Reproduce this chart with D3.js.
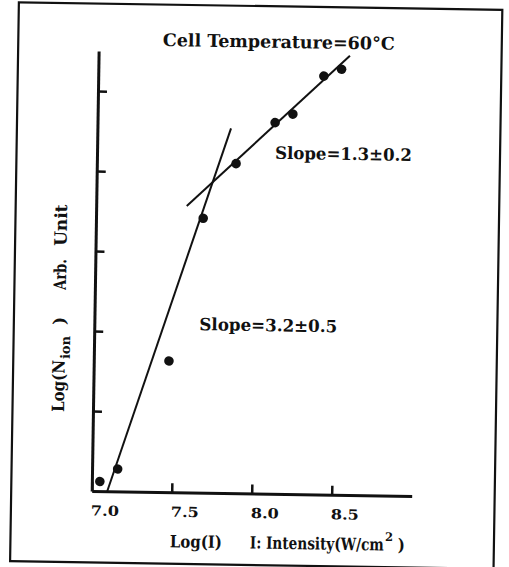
<!DOCTYPE html>
<html>
<head>
<meta charset="utf-8">
<script src="https://cdn.jsdelivr.net/npm/d3@7"></script>
<style>
  body { margin: 0; background: #fff; }
  svg { display: block; }
  text { font-family: "DejaVu Serif", serif; font-weight: bold; fill: #111; }
</style>
</head>
<body>
<svg width="509" height="567"></svg>
<script>
// measured points, Log(I) vs Log(N_ion)
const logI = [7.05, 7.16, 7.47, 7.67, 7.87, 8.11, 8.22, 8.41, 8.52];
const logN = [0.12, 0.28, 1.64, 3.43, 4.12, 4.64, 4.75, 5.23, 5.32];

// the two fitted lines (end points)
const steepFit = [[7.097, 0.0], [7.835, 4.56]];
const shallowFit = [[7.566, 3.58], [8.571, 5.49]];

const xTicks = [7.0, 7.5, 8.0, 8.5];
const xTickLabels = ["7.0", "7.5", "8.0", "8.5"];
const yTicks = [1, 2, 3, 4, 5];

main = () => {
    let svg = d3.select('svg');

    // scanned page is a bit tilted
    let g = svg.append('g')
        .attr('transform', 'rotate(0.9,254,283)');

    // frame around the figure
    g.append('rect')
        .attr('x', 14.5).attr('y', 6)
        .attr('width', 483.5).attr('height', 559)
        .attr('fill', 'none')
        .attr('stroke', '#111')
        .attr('stroke-width', 2.2);

    let xScale = d3.scaleLinear()
        .domain([7, 9])
        .range([95, 415]);

    let yScale = d3.scaleLinear()
        .domain([0, 5.5])
        .range([493.5, 53.5]);

    /********************** AXES ********************************** */
    let xAxis = d3.axisBottom(xScale)
        .tickValues(xTicks)
        .tickSizeInner(-9)
        .tickSizeOuter(0)
        .tickFormat((d, i) => xTickLabels[i]);

    let gx = g.append('g')
        .attr('transform', 'translate(0,' + yScale(0) + ')')
        .call(xAxis);
    gx.select('.domain').attr('stroke', '#111').attr('stroke-width', 3);
    gx.selectAll('.tick line').attr('stroke', '#111').attr('stroke-width', 2.5);
    gx.selectAll('.tick text')
        .attr('text-anchor', 'start')
        .attr('x', -1)
        .attr('y', 24.5)
        .attr('dy', 0)
        .attr('textLength', 28)
        .attr('lengthAdjust', 'spacingAndGlyphs')
        .style('font-size', '14px')
        .style('font-family', '"DejaVu Serif", serif')
        .style('font-weight', 'bold')
        .attr('fill', '#111');

    let yAxis = d3.axisLeft(yScale)
        .tickValues(yTicks)
        .tickSizeInner(-9)
        .tickSizeOuter(0)
        .tickFormat('');

    let gy = g.append('g')
        .attr('transform', 'translate(' + xScale(7) + ',0)')
        .call(yAxis);
    gy.select('.domain').attr('stroke', '#111').attr('stroke-width', 3);
    gy.selectAll('.tick line').attr('stroke', '#111').attr('stroke-width', 2.5);

    /********************** FIT LINES ********************************** */
    let line = d3.line()
        .x(d => xScale(d[0]))
        .y(d => yScale(d[1]));

    g.selectAll('path.fit')
        .data([steepFit, shallowFit])
        .enter()
        .append('path')
            .attr('class', 'fit')
            .attr('d', line)
            .attr('fill', 'none')
            .attr('stroke', '#111')
            .attr('stroke-width', 2);

    /********************** POINTS ********************************** */
    let points = logI.map((x, i) => [x, logN[i]]);

    g.selectAll('circle')
        .data(points)
        .enter()
        .append('circle')
            .attr('cx', d => xScale(d[0]))
            .attr('cy', d => yScale(d[1]))
            .attr('r', 4.8)
            .style('fill', '#111');

    /********************** TEXTS ********************************** */
    // helper: text squeezed sideways (scale) until it fits a width, returns its end x
    let fitted = (parent, x, y, maxLen, size, str) => {
        let holder = parent.append('g');
        let t = holder.append('text')
            .style('font-size', size + 'px')
            .text(str);
        let w = t.node().getComputedTextLength();
        let k = Math.min(1, maxLen / w);
        holder.attr('transform', 'translate(' + x + ',' + y + ') scale(' + k + ',1)');
        return x + w * k;
    };

    fitted(g, 159, 47.5, 234, 17.5, 'Cell  Temperature=60°C');
    fitted(g, 273, 158.5, 137, 17, 'Slope=1.3±0.2');
    fitted(g, 200, 331, 138, 17, 'Slope=3.2±0.5');

    // y label, rotated (x runs upward along the axis here)
    let yl = g.append('g')
        .attr('transform', 'translate(66,0) rotate(-90)');
    let e = fitted(yl, -415, 0, 52, 17, 'Log(N');
    fitted(yl, e + 1, 5, 26, 13, 'ion');
    fitted(yl, -328, 0, 8, 17, ')');
    fitted(yl, -293, 0, 31, 17, 'Arb.');
    fitted(yl, -249, 0, 45, 17, 'Unit');

    // x label
    fitted(g, 174, 548.5, 52, 17, 'Log(I)');
    let end = fitted(g, 254, 548.5, 134, 17, 'I: Intensity(W/cm');
    end = fitted(g, end + 1, 539, 8, 12, '2');
    fitted(g, end + 5, 548.5, 7, 17, ')');
}

main();
</script>
</body>
</html>
